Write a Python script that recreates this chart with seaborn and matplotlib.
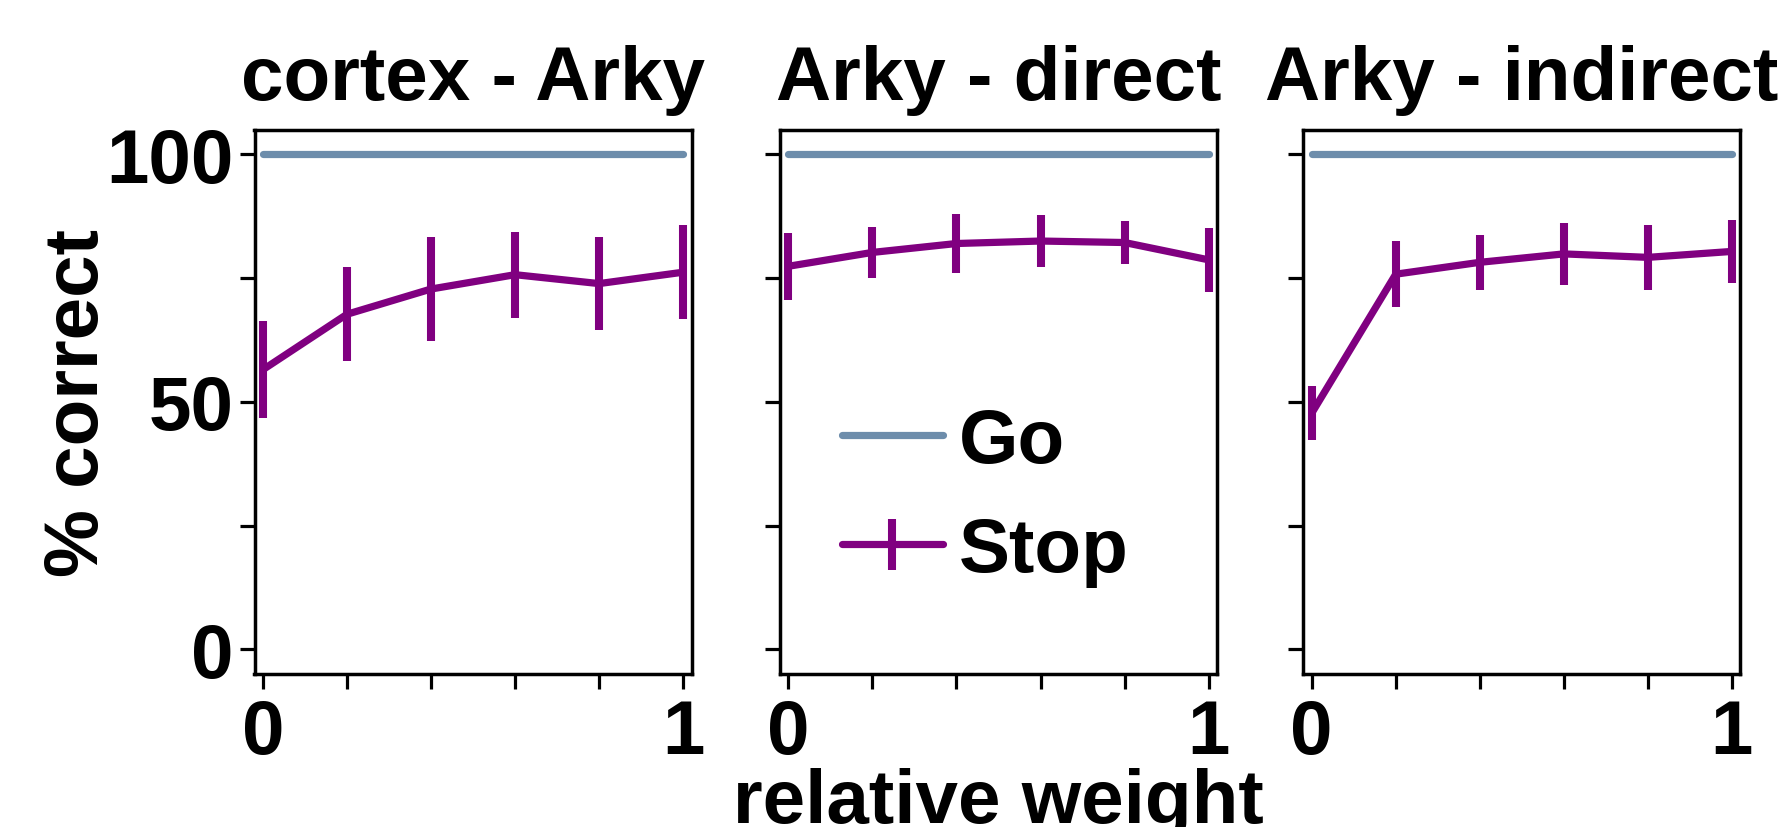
import matplotlib
matplotlib.use("Agg")
import matplotlib.pyplot as plt
import seaborn as sns
from matplotlib.legend_handler import HandlerErrorbar
from matplotlib.container import ErrorbarContainer

# data
weights = [0.0, 0.2, 0.4, 0.6, 0.8, 1.0]
titles = ["cortex - Arky", "Arky - direct", "Arky - indirect"]
go_correct = [100, 100, 100, 100, 100, 100]

stop_cortex_arky = [56.5, 67.7, 72.8, 75.7, 73.9, 76.2]
stop_cortex_arky_err = [9.8, 9.5, 10.6, 8.7, 9.4, 9.5]
stop_arky_direct = [77.4, 80.2, 82.0, 82.5, 82.2, 78.7]
stop_arky_direct_err = [6.8, 5.1, 5.9, 5.3, 4.4, 6.5]
stop_arky_indirect = [47.7, 75.8, 78.2, 79.9, 79.2, 80.4]
stop_arky_indirect_err = [5.5, 6.7, 5.5, 6.2, 6.5, 6.3]

xticks = [0.0, 0.2, 0.4, 0.6, 0.8, 1.0]
xtick_labels = ["0", "", "", "", "", "1"]
yticks = [0, 25, 50, 75, 100]
ytick_labels = ["0", "", "50", "", "100"]

stop_means = [stop_cortex_arky, stop_arky_direct, stop_arky_indirect]
stop_errs = [stop_cortex_arky_err, stop_arky_direct_err, stop_arky_indirect_err]

go_color = "#6D8DAB"
stop_color = "purple"

sns.set_theme(style="ticks")
plt.rcParams["font.family"] = ["Liberation Sans", "DejaVu Sans"]
plt.rcParams["font.weight"] = "bold"
plt.rcParams["font.size"] = 55
plt.rcParams["text.color"] = "black"
plt.rcParams["axes.labelcolor"] = "black"
plt.rcParams["xtick.color"] = "black"
plt.rcParams["ytick.color"] = "black"
plt.rcParams["axes.edgecolor"] = "black"

W, H = 1787, 828
fig = plt.figure(figsize=(W / 100, H / 100), dpi=100)

lefts = [254.5, 780, 1303.3]
ax_w, ax_top, ax_bot = 437, 130.7, 675

axes = []
for i in range(3):
    ax = fig.add_axes([lefts[i] / W, 1 - ax_bot / H, ax_w / W, (ax_bot - ax_top) / H])
    axes.append(ax)

    sns.lineplot(x=weights, y=go_correct, color=go_color, linewidth=5.2, ax=ax)
    stop = ax.errorbar(weights, stop_means[i], yerr=stop_errs[i], fmt="-",
                       color=stop_color, linewidth=5.2, elinewidth=5.8, capsize=0)

    ax.set_xlim(-0.02, 1.02)
    ax.set_ylim(-5, 105)
    ax.set_xticks(xticks)
    ax.set_xticklabels(xtick_labels, fontsize=55, fontweight="bold", color="black")
    ax.set_yticks(yticks)
    if i == 0:
        ax.set_yticklabels(ytick_labels, fontsize=55, fontweight="bold", color="black")
    else:
        ax.set_yticklabels([])
    ax.tick_params(axis="both", direction="out", length=11, width=2.3, color="black")
    ax.tick_params(axis="x", pad=6)
    ax.tick_params(axis="y", pad=4)
    for s in ax.spines.values():
        s.set_linewidth(2.5)
        s.set_color("black")
    ax.set_title(titles[i], fontsize=55, fontweight="bold", pad=22, color="black")
    ax.grid(False)

    if i == 1:
        go_line = ax.lines[0]
        ax.legend([go_line, stop], ["Go", "Stop"], loc="center",
                  bbox_to_anchor=(0.47, 0.325), frameon=False,
                  handlelength=1.33, handletextpad=0.21, labelspacing=0.5,
                  prop={"weight": "bold", "size": 55},
                  handler_map={ErrorbarContainer: HandlerErrorbar(yerr_size=0.33)})

axes[0].set_ylabel("% correct", fontsize=55, fontweight="bold", color="black")
axes[0].yaxis.set_label_coords((114 - 254.5) / ax_w, 0.5)
axes[1].set_xlabel("relative weight", fontsize=55, fontweight="bold", color="black")
axes[1].xaxis.set_label_coords(0.5, (675 - 768) / (ax_bot - ax_top))

fig.savefig("out.png", dpi=100)
